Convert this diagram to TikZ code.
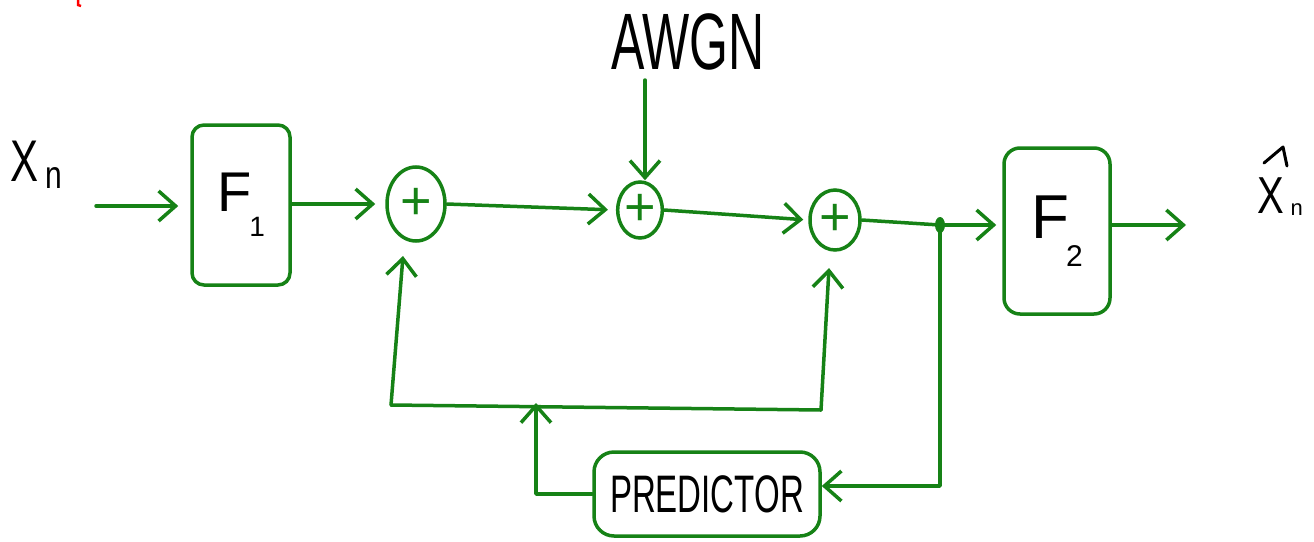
\documentclass[tikz,border=0pt]{standalone}
\usepackage{fontspec}
\setmainfont{Liberation Sans}
\usetikzlibrary{arrows.meta,shapes.geometric}
\definecolor{pen}{RGB}{22,130,22}
\definecolor{ink}{RGB}{0,0,0}
\begin{document}
\begin{tikzpicture}[x=1pt,y=-1pt,
  wire/.style={draw=pen,line width=3.5pt,line cap=round,line join=round},
  arr/.style={wire,-{Straight Barb[length=17pt,width=30pt]}},
  blk/.style={draw=pen,line width=3.5pt,rounded corners=12pt,inner sep=0pt,text=ink},
  sumnode/.style={draw=pen,line width=3.5pt,ellipse,inner sep=0pt,text=pen,font=\fontsize{54}{54}\selectfont},
  lbl/.style={text=ink,inner sep=0pt}]
\useasboundingbox (0,0) rectangle (1314,541);
% blocks
\node[blk,minimum width=98pt,minimum height=160pt] (F1) at (241,205)
  {\fontsize{56}{56}\selectfont F\kern-2pt\raisebox{-25pt}{\fontsize{28}{28}\selectfont 1}};
\node[blk,minimum width=106pt,minimum height=166pt,rounded corners=16pt] (F2) at (1057,231)
  {\fontsize{62}{62}\selectfont F\kern-3pt\raisebox{-28pt}{\fontsize{30}{30}\selectfont 2}};
\node[blk,minimum width=226pt,minimum height=84pt,rounded corners=20pt] (P) at (707,494)
  {\fontsize{33}{33}\selectfont\scalebox{1}[1.6]{PREDICTOR}};
% adders
\node[sumnode,minimum width=58pt,minimum height=74pt] (s1) at (416,204) {+};
\node[sumnode,minimum width=44pt,minimum height=56pt] (s2) at (640,210) {+};
\node[sumnode,minimum width=50pt,minimum height=60pt] (s3) at (835,220) {+};
% labels
\node[lbl] (xn) at (36,165)
  {\fontsize{42}{42}\selectfont\scalebox{1}[1.4]{X}\,\raisebox{-7pt}{\fontsize{30}{30}\selectfont\scalebox{1}[1.3]{n}}};
\node[lbl] (xh) at (1280,197)
  {\fontsize{40}{40}\selectfont\scalebox{1}[1.3]{X}\,\raisebox{-2pt}{\fontsize{22}{22}\selectfont n}};
\node[lbl] (awgn) at (688,42)
  {\fontsize{50}{50}\selectfont\scalebox{1}[1.6]{AWGN}};
\draw[ink,line width=3pt,line cap=round,line join=round] (1264,163) -- (1283,147) -- (1287,166);
\draw[red,line width=2.5pt] (78,0) -- (78,5) -- (81,6);
% coordinates
\coordinate (in) at (96,206);
\coordinate (out) at (1186,225);
\coordinate (dot) at (940,225);
\coordinate (jl) at (391,405);
\coordinate (jr) at (821,410);
\coordinate (jn) at (536,403);
\coordinate (s1b) at (403,256);
\coordinate (s3b) at (829,268);
\coordinate (nin) at (645,80);
\coordinate (pin) at ([yshift=8pt]P.east);
% connectors
\draw[arr,shorten >=12pt] (in) -- (F1.west |- in);
\draw[arr,shorten >=10pt] (F1.east |- s1.west) -- (s1.west);
\draw[arr,shorten >=8pt] (s1.east) -- (s2.west);
\draw[arr] (nin) -- (s2.north -| nin);
\draw[arr,shorten >=5pt] (s2.east) -- (s3.west);
\draw[wire] (s3.east) -- (dot);
\draw[arr,shorten >=6pt] (dot) -- (F2.west |- dot);
\draw[arr] (F2.east |- out) -- (out);
\fill[pen] (dot) ellipse [x radius=5pt, y radius=8pt];
\draw[arr] (dot) |- (pin);
\draw[arr] (P.west) -| (jn);
\draw[wire] (jl) -- (jr);
\draw[arr] (jl) -- (s1b);
\draw[arr] (jr) -- (s3b);
\end{tikzpicture}
\end{document}
